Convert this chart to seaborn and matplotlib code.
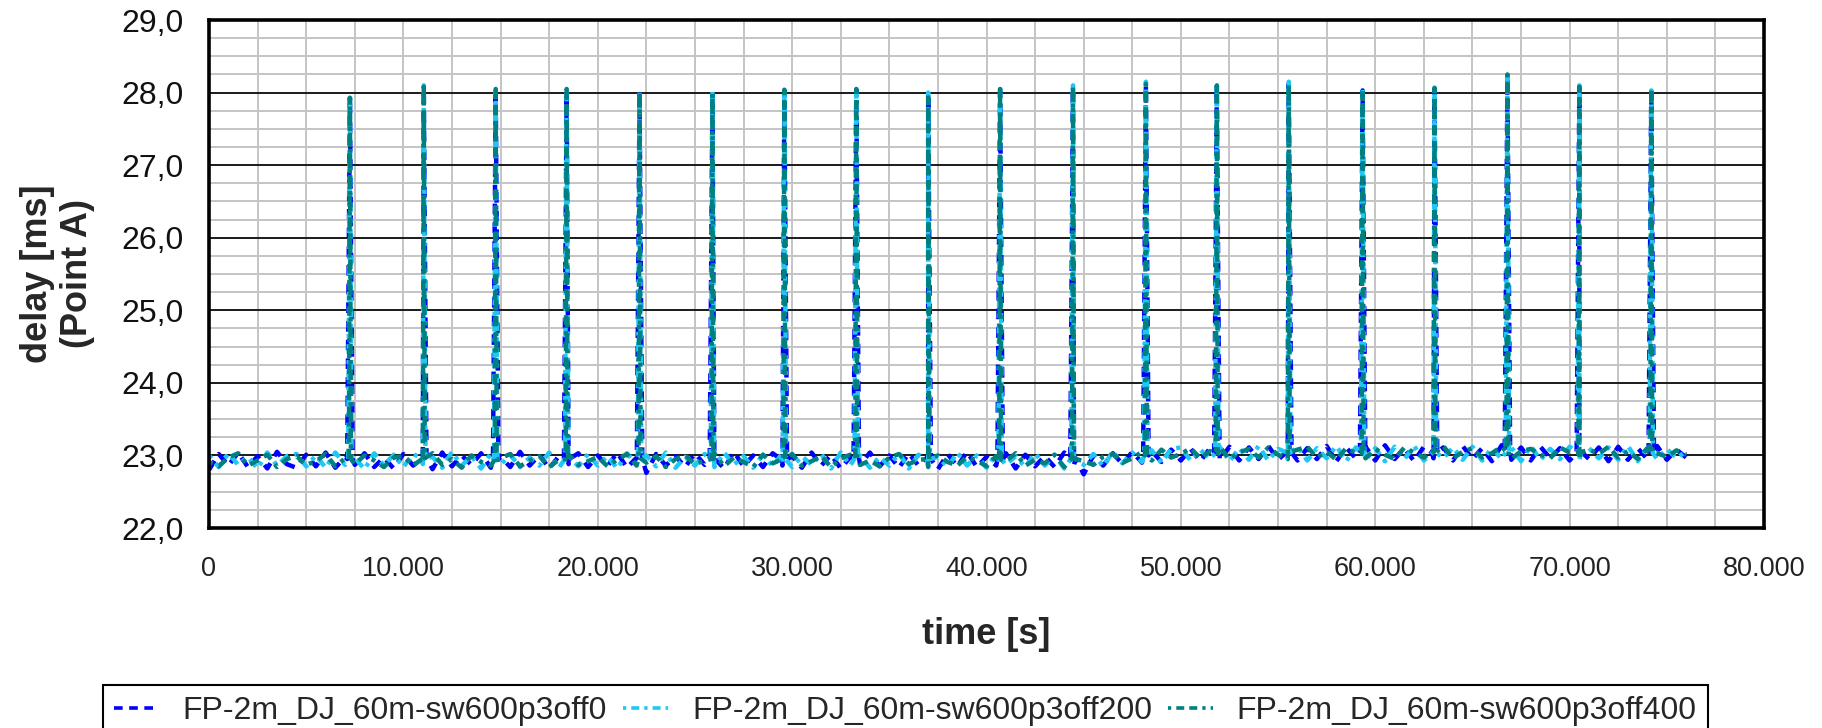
import numpy as np
import pandas as pd
import matplotlib
matplotlib.use('Agg')
import matplotlib.pyplot as plt
import seaborn as sns
from matplotlib.ticker import MultipleLocator, FuncFormatter

# baseline delay [ms], one sample every 500 s from 0 to 76000 s
time_step = 500
blue_base = [
    22.80, 23.02, 22.86, 23.04, 22.84, 22.99, 22.82, 23.05, 22.88, 22.83,
    23.01, 22.85, 23.04, 22.83, 22.98, 22.87, 23.03, 22.84, 22.97, 22.82,
    23.02, 22.86, 22.99, 22.81, 23.04, 22.85, 23.00, 22.87, 23.03, 22.83,
    22.98, 22.84, 23.05, 22.86, 23.01, 22.82, 22.99, 22.88, 23.03, 22.84,
    23.00, 22.85, 23.04, 22.83, 22.97, 22.76, 23.02, 22.86, 22.99, 22.84,
    23.03, 22.87, 22.98, 22.82, 23.05, 22.85, 23.00, 22.84, 23.03, 22.86,
    22.99, 22.83, 23.04, 22.86, 23.01, 22.82, 22.98, 22.87, 23.04, 22.85,
    23.00, 22.83, 23.03, 22.86, 22.99, 22.81, 23.02, 22.85, 23.05, 22.84,
    22.98, 22.86, 23.03, 22.82, 23.01, 22.85, 22.99, 22.84, 23.04, 22.87,
    22.74, 23.00, 22.86, 23.03, 22.88, 23.05, 22.90, 23.06, 22.91, 23.08,
    22.93, 23.09, 22.92, 23.10, 22.94, 23.12, 22.93, 23.11, 22.95, 23.13,
    22.94, 23.12, 22.93, 23.10, 22.95, 23.13, 22.92, 23.11, 22.96, 23.12,
    22.93, 23.14, 22.95, 23.10, 22.92, 23.12, 22.96, 23.11, 22.93, 23.13,
    22.95, 23.10, 22.92, 23.14, 22.94, 23.11, 22.93, 23.12, 22.96, 23.10,
    22.93, 23.13, 22.95, 23.11, 22.92, 23.12, 22.94, 23.10, 22.95, 23.13,
    22.94, 23.08, 22.97]
cyan_base = [
    23.00, 22.84, 23.03, 22.87, 22.98, 22.82, 23.04, 22.86, 22.99, 23.02,
    22.85, 23.00, 22.83, 23.04, 22.87, 22.97, 22.81, 23.03, 22.86, 23.01,
    22.84, 23.02, 22.88, 22.98, 22.83, 23.05, 22.86, 22.99, 22.82, 23.03,
    22.87, 23.01, 22.84, 22.97, 22.86, 23.04, 22.83, 23.00, 22.85, 23.02,
    22.86, 22.99, 22.82, 23.03, 22.88, 23.00, 22.85, 23.04, 22.83, 22.98,
    22.86, 23.02, 22.84, 23.04, 22.87, 22.99, 22.83, 23.01, 22.85, 23.03,
    22.84, 22.99, 22.87, 23.02, 22.82, 23.04, 22.86, 23.00, 22.83, 22.98,
    22.86, 23.03, 22.82, 23.01, 22.87, 22.98, 22.84, 23.04, 22.86, 23.00,
    22.83, 23.02, 22.87, 22.99, 22.84, 23.03, 22.86, 23.01, 22.82, 22.98,
    22.87, 23.02, 22.85, 23.05, 22.89, 23.04, 22.91, 23.07, 22.90, 23.09,
    23.11, 22.93, 23.08, 22.95, 23.12, 22.92, 23.10, 22.94, 23.13, 22.93,
    23.09, 22.95, 23.12, 22.93, 23.10, 22.96, 23.13, 22.92, 23.11, 22.94,
    23.10, 22.92, 23.12, 22.95, 23.13, 22.93, 23.09, 22.96, 23.11, 22.94,
    23.12, 22.93, 23.10, 22.95, 23.11, 22.92, 23.13, 22.94, 23.09, 22.95,
    23.12, 22.93, 23.10, 22.96, 23.11, 22.94, 23.13, 22.92, 23.10, 22.95,
    23.09, 22.96, 23.06]
teal_base = [
    22.91, 22.85, 22.97, 23.03, 22.86, 22.93, 23.01, 22.84, 22.95, 22.99,
    22.87, 22.92, 23.02, 22.85, 22.96, 22.88, 23.00, 22.93, 22.84, 22.97,
    22.99, 22.86, 22.92, 23.03, 22.87, 22.95, 22.83, 23.00, 22.91, 22.86,
    22.96, 23.02, 22.85, 22.93, 22.99, 22.84, 22.94, 23.01, 22.87, 22.92,
    22.98, 22.85, 22.94, 23.02, 22.86, 22.90, 22.99, 22.84, 22.95, 23.00,
    22.88, 22.93, 23.03, 22.85, 22.97, 22.91, 22.84, 23.01, 22.89, 22.95,
    23.02, 22.86, 22.92, 22.99, 22.84, 22.96, 23.01, 22.87, 22.93, 22.85,
    22.97, 23.02, 22.88, 22.94, 22.84, 23.00, 22.91, 22.86, 22.98, 22.93,
    22.85, 22.99, 22.92, 23.03, 22.86, 22.94, 22.89, 23.01, 22.84, 22.96,
    22.92, 22.87, 22.98, 23.02, 22.90, 22.96, 23.05, 22.93, 23.08, 22.97,
    23.02, 23.10, 22.96, 23.06, 23.12, 22.95, 23.04, 23.09, 22.97, 23.11,
    23.01, 22.95, 23.08, 23.12, 22.97, 23.05, 22.94, 23.10, 23.03, 22.96,
    23.09, 23.01, 22.95, 23.11, 23.04, 22.97, 23.07, 23.13, 22.96, 23.05,
    23.10, 22.97, 23.03, 23.12, 22.95, 23.06, 23.09, 23.01, 22.96, 23.11,
    23.04, 22.94, 23.08, 23.02, 23.12, 22.97, 23.06, 22.95, 23.10, 23.03,
    22.98, 23.07, 23.01]

# delay spikes (time [s], peak [ms]) and the level they start from
spike_times = [7250, 11050, 14750, 18400, 22150, 25900, 29600, 33300, 37000, 40700,
               44450, 48200, 51850, 55550, 59350, 63050, 66800, 70500, 74200]
spike_foot = [22.95, 22.96, 22.94, 22.95, 22.96, 22.95, 22.94, 22.96, 22.95, 22.94,
              22.96, 23.00, 23.03, 23.04, 23.03, 23.04, 23.05, 23.04, 23.03]
blue_peaks = [27.95, 28.05, 28.02, 28.00, 27.98, 27.97, 28.03, 28.04, 27.98, 28.02,
              28.06, 28.10, 28.08, 28.12, 28.03, 28.05, 28.20, 28.07, 28.02]
cyan_peaks = [27.97, 28.10, 28.03, 28.03, 28.02, 28.01, 28.05, 28.07, 28.00, 28.07,
              28.10, 28.15, 28.13, 28.15, 28.04, 28.07, 28.22, 28.10, 28.03]
teal_peaks = [27.93, 28.08, 28.05, 28.05, 28.00, 27.99, 28.04, 28.05, 27.99, 28.05,
              28.08, 28.12, 28.10, 28.10, 28.05, 28.06, 28.25, 28.08, 28.05]

labels = ['FP-2m_DJ_60m-sw600p3off0', 'FP-2m_DJ_60m-sw600p3off200', 'FP-2m_DJ_60m-sw600p3off400']
colors = ['#0000ff', '#1ec8f5', '#008080']
dashes = [(2.4, 1.8), (0.9, 1.4, 2.2, 1.4), (0.9, 1.4, 2.2, 1.4, 2.2, 1.4)]


def build(base, peaks, half):
    t = list(np.arange(len(base)) * time_step)
    v = list(base)
    for st, pk, ft in zip(spike_times, peaks, spike_foot):
        t += [st - half, st, st + half]
        v += [ft, pk, ft]
    return pd.DataFrame({'time': t, 'delay': v}).sort_values('time')


sns.set_style('white')
plt.rcParams['font.family'] = ['Liberation Sans', 'DejaVu Sans']

fig = plt.figure(figsize=(18.22, 7.28), dpi=100)
ax = fig.add_axes([209 / 1822, 1 - 528 / 728, 1555 / 1822, 508 / 728])

series = [build(blue_base, blue_peaks, 140), build(cyan_base, cyan_peaks, 90),
          build(teal_base, teal_peaks, 50)]
for df, c, d, lab in zip(series, colors, dashes, labels):
    sns.lineplot(data=df, x='time', y='delay', ax=ax, color=c, linewidth=3.2,
                 estimator=None, sort=False, label=lab)
    line = ax.get_lines()[-1]
    line.set_dashes(d)
    line.set_dash_capstyle('butt')

if ax.get_legend() is not None:
    ax.get_legend().remove()

ax.set_xlim(0, 80000)
ax.set_ylim(22, 29)
ax.xaxis.set_major_locator(MultipleLocator(10000))
ax.xaxis.set_minor_locator(MultipleLocator(2500))
ax.yaxis.set_major_locator(MultipleLocator(1))
ax.yaxis.set_minor_locator(MultipleLocator(0.25))
ax.xaxis.set_major_formatter(FuncFormatter(lambda v, p: f'{int(v):,}'.replace(',', '.')))
ax.yaxis.set_major_formatter(FuncFormatter(lambda v, p: f'{v:.1f}'.replace('.', ',')))

ax.grid(which='minor', color='#c4c4c4', lw=1.4)
ax.grid(which='major', axis='x', color='#c4c4c4', lw=1.4)
ax.grid(which='major', axis='y', color='#1a1a1a', lw=1.4)
ax.set_axisbelow(True)

for s in ax.spines.values():
    s.set_visible(True)
    s.set_color('black')
    s.set_linewidth(2.6)

ax.tick_params(which='major', direction='inout', length=13, width=1.6, color='black')
ax.tick_params(which='minor', direction='inout', length=10, width=1.6, color='black')
ax.tick_params(axis='y', which='major', labelsize=23, pad=12, labelcolor='#111111')
ax.tick_params(axis='x', which='major', labelsize=19.5, pad=14, labelcolor='#222222')

ax.set_xlabel('time [s]', fontsize=26, fontweight='bold')
ax.set_ylabel('delay [ms]\n(Point A)', fontsize=26, fontweight='bold', linespacing=1.2)
ax.xaxis.set_label_coords(0.5, -0.175)
ax.yaxis.set_label_coords(-0.073, 0.5)

handles = ax.get_lines()[:3]
leg = fig.legend(handles, labels, loc='upper left', bbox_to_anchor=(103 / 1822, 1 - 685 / 728),
                 ncol=3, fontsize=23, frameon=True, fancybox=False, framealpha=1,
                 edgecolor='black', borderaxespad=0, borderpad=0.35, handlelength=1.4,
                 handletextpad=0.75, columnspacing=0.5)
leg.get_frame().set_linewidth(1.5)
for h in leg.get_lines():
    h.set_linewidth(2.6)

fig.savefig('out.png', dpi=100)
